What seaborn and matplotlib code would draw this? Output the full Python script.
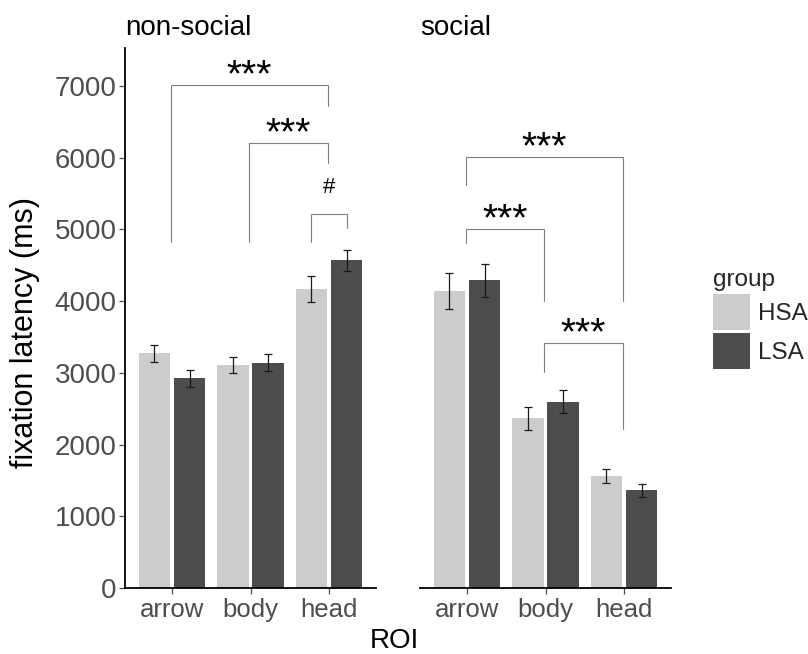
import matplotlib
matplotlib.use("Agg")
import matplotlib.pyplot as plt
import pandas as pd
import seaborn as sns
from matplotlib.patches import Patch

# ---- data -----------------------------------------------------------------
roi = ["arrow", "body", "head"]
groups = ["HSA", "LSA"]
conditions = ["non-social", "social"]

nonsocial_hsa = [3270, 3110, 4175]
nonsocial_lsa = [2925, 3140, 4570]
social_hsa = [4140, 2365, 1565]
social_lsa = [4290, 2600, 1360]

nonsocial_hsa_se = [118, 112, 180]
nonsocial_lsa_se = [120, 120, 150]
social_hsa_se = [250, 158, 95]
social_lsa_se = [230, 160, 97]

y_ticks = [0, 1000, 2000, 3000, 4000, 5000, 6000, 7000]

# significance brackets: (x_left, x_right, top, left_end, right_end, label)
brackets = {
    "non-social": [
        ("arrow", "head", 7015, 4822, 6722, "***"),
        ("body", "head", 6211, 4822, 5923, "***"),
        ("head-HSA", "head-LSA", 5216, 4822, 5017, "#"),
    ],
    "social": [
        ("arrow", "head", 6006, 5620, 4007, "***"),
        ("arrow", "body", 5007, 4816, 4007, "***"),
        ("body", "head", 3413, 3017, 2213, "***"),
    ],
}

# ---- tidy table -----------------------------------------------------------
rows = []
series = {
    ("non-social", "HSA"): (nonsocial_hsa, nonsocial_hsa_se),
    ("non-social", "LSA"): (nonsocial_lsa, nonsocial_lsa_se),
    ("social", "HSA"): (social_hsa, social_hsa_se),
    ("social", "LSA"): (social_lsa, social_lsa_se),
}
for (cond, grp), (vals, ses) in series.items():
    for r, v, s in zip(roi, vals, ses):
        rows.append({"condition": cond, "group": grp, "ROI": r,
                     "latency": v, "se": s})
df = pd.DataFrame(rows)

# ---- style ----------------------------------------------------------------
sns.set_theme(style="ticks")
plt.rcParams["font.family"] = ["Liberation Sans", "DejaVu Sans"]
palette = {"HSA": "#CCCCCC", "LSA": "#4D4D4D"}
tick_color = "#4D4D4D"

fig = plt.figure(figsize=(8.08, 6.54), dpi=100)
W, H = 808, 654
panel_px = {"non-social": (125, 376), "social": (420, 671)}
top_px, bottom_px = 48, 588
ymax = 7530

DODGE = 0.225

for cond in conditions:
    x0, x1 = panel_px[cond]
    ax = fig.add_axes([x0 / W, (H - bottom_px) / H,
                       (x1 - x0) / W, (bottom_px - top_px) / H])
    sub = df[df["condition"] == cond]
    sns.barplot(data=sub, x="ROI", y="latency", hue="group", order=roi,
                hue_order=groups, palette=palette, width=0.9, gap=0.11,
                errorbar=None, linewidth=0, saturation=1, ax=ax,
                legend=False)

    # standard-error whiskers on each bar
    for grp, container in zip(groups, ax.containers):
        ses = sub[sub["group"] == grp].set_index("ROI").loc[roi, "se"].values
        for bar, se in zip(container, ses):
            xc = bar.get_x() + bar.get_width() / 2
            ax.errorbar(xc, bar.get_height(), yerr=se, fmt="none",
                        ecolor="#1A1A1A", elinewidth=0.9, capsize=3.0,
                        capthick=0.9, zorder=3)

    ax.set_xlim(-0.6, 2.6)
    ax.set_ylim(0, ymax)
    ax.set_yticks(y_ticks)
    ax.set_xlabel("")
    ax.set_ylabel("")
    ax.tick_params(axis="y", labelsize=20, colors=tick_color,
                   length=4, width=0.9, pad=2)
    ax.tick_params(axis="x", labelsize=18.5, colors=tick_color,
                   length=4, width=0.9, pad=3)
    for lab in ax.get_xticklabels() + ax.get_yticklabels():
        lab.set_color(tick_color)
    ax.spines["top"].set_visible(False)
    ax.spines["right"].set_visible(False)
    ax.spines["bottom"].set_linewidth(1.3)
    ax.spines["left"].set_linewidth(1.3)
    ax.spines["bottom"].set_color("black")
    ax.spines["left"].set_color("black")

    if cond == "social":
        ax.spines["left"].set_visible(False)
        ax.tick_params(axis="y", left=False, labelleft=False)

    ax.annotate(cond, xy=(0, 1), xycoords="axes fraction",
                xytext=(0, 9.5), textcoords="offset points",
                ha="left", va="baseline", fontsize=20, color="black")

    # significance brackets
    pos = {r: i - 0.015 for i, r in enumerate(roi)}
    pos["head-HSA"] = 2 - DODGE
    pos["head-LSA"] = 2 + DODGE
    for a, b, top, ya, yb, label in brackets[cond]:
        xa, xb = pos[a], pos[b]
        ax.plot([xa, xa, xb, xb], [ya, top, top, yb], color="#7F7F7F",
                lw=0.8, solid_joinstyle="miter", zorder=2)
        if label == "#":
            ax.annotate(label, xy=((xa + xb) / 2, top), xytext=(0, 15),
                        textcoords="offset points", ha="center",
                        va="baseline", fontsize=16, color="black")
        else:
            ax.annotate(label, xy=((xa + xb) / 2, top), xytext=(0, -1),
                        textcoords="offset points", ha="center",
                        va="baseline", fontsize=28, color="black")

fig.text(25 / W, 1 - 332 / H, "fixation latency (ms)", rotation=90,
         ha="center", va="center", fontsize=22, color="black")
fig.text(394 / W, 1 - 641 / H, "ROI", ha="center", va="center",
         fontsize=20, color="black")

handles = [Patch(facecolor=palette[g], edgecolor="none", label=g)
           for g in groups]
leg = fig.legend(handles=handles, title="group", loc="upper left",
                 bbox_to_anchor=(706 / W, 1 - 262 / H), frameon=False,
                 fontsize=17.5, title_fontsize=17.5, handlelength=1.52,
                 handleheight=1.91, handletextpad=0.3, labelspacing=0.12,
                 alignment="left", borderaxespad=0, borderpad=0.3)

fig.savefig("out.png", dpi=100)
